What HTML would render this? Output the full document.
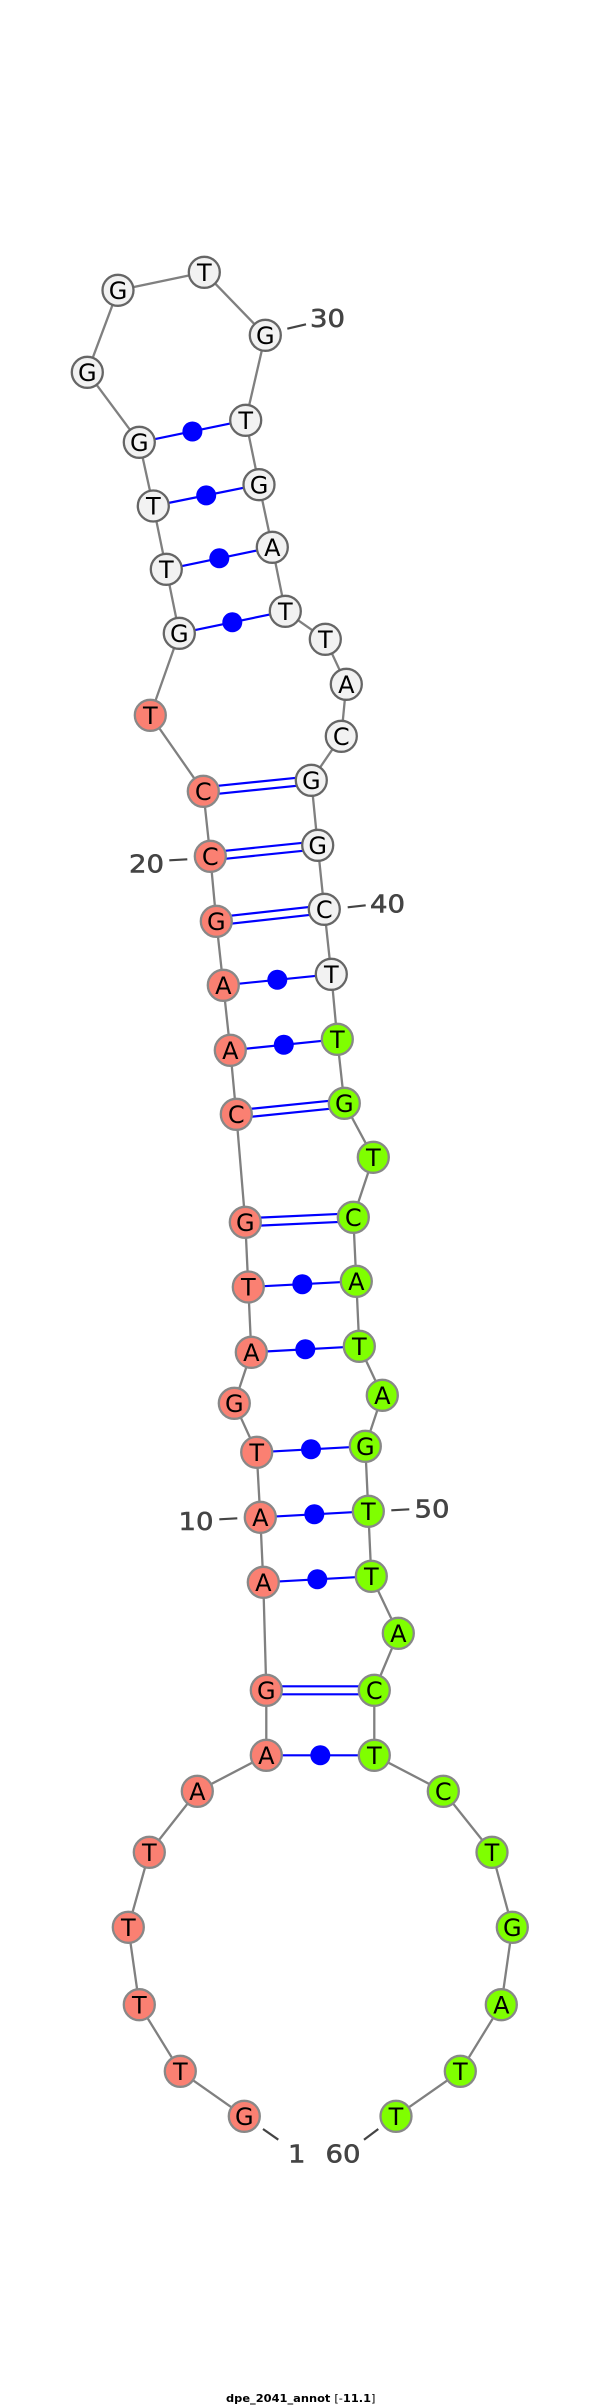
<!DOCTYPE html>
<html>
<head>
<meta charset="utf-8">
<style>
html,body{margin:0;padding:0;background:#fff}
svg{display:block}
.b{stroke:#808080;stroke-width:2.3;fill:none}
.p line{stroke:#0000ff;stroke-width:2.2}
.p circle{fill:#0000ff}
.w circle{fill:#f2f2f2;stroke:#666;stroke-width:2.3}
.s circle{fill:#fa8072;stroke:#888;stroke-width:2.3}
.g circle{fill:#7fff00;stroke:#888;stroke-width:2.3}
.n text{font-family:"DejaVu Sans",sans-serif;font-size:24px;fill:#000;text-anchor:middle}
.l text{font-family:"DejaVu Sans",sans-serif;font-size:25px;fill:#444;stroke:#444;stroke-width:.6}
.l line{stroke:#444;stroke-width:2.2}
</style>
</head>
<body>
<svg width="600" height="2406" viewBox="0 0 600 2406" xmlns="http://www.w3.org/2000/svg">
<rect width="600" height="2406" fill="#fff"/>
<polyline class="b" points="244.3,2116.3 180.3,2071.3 139.3,2004.7 128.3,1927.3 149.3,1852.3 197.3,1791.3 266.3,1755.3 266.3,1690.3 263.3,1582.3 260.3,1517.3 256.7,1452.3 234.3,1403.3 251.3,1352.3 248.3,1287 245.3,1222.3 236.3,1114.3 230.3,1050.3 223.3,985.3 216.3,921.3 210.3,856.3 203.3,791.3 150.3,715.3 179.3,633.3 166.3,569.3 153.3,506 139.3,442.3 87.3,372.3 118,290.3 204.3,272.3 265.3,335.3 245.7,420.3 259,484.7 272.3,547.3 285.3,611.3 325.3,639.3 346.3,684.3 341.3,736.3 311.3,780.3 317.7,845.3 324.3,909.3 331.3,974.3 337.3,1039.3 344.3,1103.3 373.3,1157.3 353.3,1217.3 356.3,1281.3 359.3,1346.3 382.3,1395.3 365.3,1446.3 368.3,1511.3 371.3,1576.3 398.3,1633.3 374.3,1690.3 374.3,1755.3 443.3,1791.3 492,1852.3 512.3,1927.3 501.3,2004.7 460.3,2071.3 396,2116.3"/>
<g class="p">
<line x1="139.3" y1="442.3" x2="245.7" y2="420.3"/><circle cx="192.4" cy="431.5" r="10"/>
<line x1="153.3" y1="506" x2="259" y2="484.7"/><circle cx="206.2" cy="495.4" r="10"/>
<line x1="166.3" y1="569.3" x2="272.3" y2="547.3"/><circle cx="219.3" cy="558.3" r="10"/>
<line x1="179.3" y1="633.3" x2="285.3" y2="611.3"/><circle cx="232.3" cy="622.3" r="10"/>
<line x1="203.3" y1="787.3" x2="311.3" y2="776.3"/><line x1="203.3" y1="795.3" x2="311.3" y2="784.3"/>
<line x1="210.3" y1="852.3" x2="317.7" y2="841.3"/><line x1="210.3" y1="860.3" x2="317.7" y2="849.3"/>
<line x1="216.3" y1="917.3" x2="324.3" y2="905.3"/><line x1="216.3" y1="925.3" x2="324.3" y2="913.3"/>
<line x1="223.3" y1="985.3" x2="331.3" y2="974.3"/><circle cx="277.3" cy="979.8" r="10"/>
<line x1="230.3" y1="1050.3" x2="337.3" y2="1039.3"/><circle cx="283.8" cy="1044.8" r="10"/>
<line x1="236.3" y1="1110.3" x2="344.3" y2="1099.3"/><line x1="236.3" y1="1118.3" x2="344.3" y2="1107.3"/>
<line x1="245.3" y1="1218.3" x2="353.3" y2="1213.3"/><line x1="245.3" y1="1226.3" x2="353.3" y2="1221.3"/>
<line x1="248.3" y1="1287" x2="356.3" y2="1281.3"/><circle cx="302.3" cy="1284.2" r="10"/>
<line x1="251.3" y1="1352.3" x2="359.3" y2="1346.3"/><circle cx="305.3" cy="1349.3" r="10"/>
<line x1="256.7" y1="1452.3" x2="365.3" y2="1446.3"/><circle cx="311" cy="1449.3" r="10"/>
<line x1="260.3" y1="1517.3" x2="368.3" y2="1511.3"/><circle cx="314.3" cy="1514.3" r="10"/>
<line x1="263.3" y1="1582.3" x2="371.3" y2="1576.3"/><circle cx="317.3" cy="1579.3" r="10"/>
<line x1="266.3" y1="1686.3" x2="374.3" y2="1686.3"/><line x1="266.3" y1="1694.3" x2="374.3" y2="1694.3"/>
<line x1="266.3" y1="1755.3" x2="374.3" y2="1755.3"/><circle cx="320.3" cy="1755.3" r="10"/>
</g>
<g class="s">
<circle cx="244.3" cy="2116.3" r="15.5"/><circle cx="180.3" cy="2071.3" r="15.5"/><circle cx="139.3" cy="2004.7" r="15.5"/><circle cx="128.3" cy="1927.3" r="15.5"/><circle cx="149.3" cy="1852.3" r="15.5"/><circle cx="197.3" cy="1791.3" r="15.5"/><circle cx="266.3" cy="1755.3" r="15.5"/><circle cx="266.3" cy="1690.3" r="15.5"/><circle cx="263.3" cy="1582.3" r="15.5"/><circle cx="260.3" cy="1517.3" r="15.5"/><circle cx="256.7" cy="1452.3" r="15.5"/><circle cx="234.3" cy="1403.3" r="15.5"/><circle cx="251.3" cy="1352.3" r="15.5"/><circle cx="248.3" cy="1287" r="15.5"/><circle cx="245.3" cy="1222.3" r="15.5"/><circle cx="236.3" cy="1114.3" r="15.5"/><circle cx="230.3" cy="1050.3" r="15.5"/><circle cx="223.3" cy="985.3" r="15.5"/><circle cx="216.3" cy="921.3" r="15.5"/><circle cx="210.3" cy="856.3" r="15.5"/><circle cx="203.3" cy="791.3" r="15.5"/><circle cx="150.3" cy="715.3" r="15.5"/>
</g>
<g class="w">
<circle cx="179.3" cy="633.3" r="15.5"/><circle cx="166.3" cy="569.3" r="15.5"/><circle cx="153.3" cy="506" r="15.5"/><circle cx="139.3" cy="442.3" r="15.5"/><circle cx="87.3" cy="372.3" r="15.5"/><circle cx="118" cy="290.3" r="15.5"/><circle cx="204.3" cy="272.3" r="15.5"/><circle cx="265.3" cy="335.3" r="15.5"/><circle cx="245.7" cy="420.3" r="15.5"/><circle cx="259" cy="484.7" r="15.5"/><circle cx="272.3" cy="547.3" r="15.5"/><circle cx="285.3" cy="611.3" r="15.5"/><circle cx="325.3" cy="639.3" r="15.5"/><circle cx="346.3" cy="684.3" r="15.5"/><circle cx="341.3" cy="736.3" r="15.5"/><circle cx="311.3" cy="780.3" r="15.5"/><circle cx="317.7" cy="845.3" r="15.5"/><circle cx="324.3" cy="909.3" r="15.5"/><circle cx="331.3" cy="974.3" r="15.5"/>
</g>
<g class="g">
<circle cx="337.3" cy="1039.3" r="15.5"/><circle cx="344.3" cy="1103.3" r="15.5"/><circle cx="373.3" cy="1157.3" r="15.5"/><circle cx="353.3" cy="1217.3" r="15.5"/><circle cx="356.3" cy="1281.3" r="15.5"/><circle cx="359.3" cy="1346.3" r="15.5"/><circle cx="382.3" cy="1395.3" r="15.5"/><circle cx="365.3" cy="1446.3" r="15.5"/><circle cx="368.3" cy="1511.3" r="15.5"/><circle cx="371.3" cy="1576.3" r="15.5"/><circle cx="398.3" cy="1633.3" r="15.5"/><circle cx="374.3" cy="1690.3" r="15.5"/><circle cx="374.3" cy="1755.3" r="15.5"/><circle cx="443.3" cy="1791.3" r="15.5"/><circle cx="492" cy="1852.3" r="15.5"/><circle cx="512.3" cy="1927.3" r="15.5"/><circle cx="501.3" cy="2004.7" r="15.5"/><circle cx="460.3" cy="2071.3" r="15.5"/><circle cx="396" cy="2116.3" r="15.5"/>
</g>
<g class="n">
<text x="244.3" y="2125">G</text><text x="180.3" y="2080">T</text><text x="139.3" y="2013.4">T</text><text x="128.3" y="1936">T</text><text x="149.3" y="1861">T</text><text x="197.3" y="1800">A</text><text x="266.3" y="1764">A</text><text x="266.3" y="1699">G</text><text x="263.3" y="1591">A</text><text x="260.3" y="1526">A</text><text x="256.7" y="1461">T</text><text x="234.3" y="1412">G</text><text x="251.3" y="1361">A</text><text x="248.3" y="1295.7">T</text><text x="245.3" y="1231">G</text><text x="236.3" y="1123">C</text><text x="230.3" y="1059">A</text><text x="223.3" y="994">A</text><text x="216.3" y="930">G</text><text x="210.3" y="865">C</text><text x="203.3" y="800">C</text><text x="150.3" y="724">T</text>
<text x="179.3" y="642">G</text><text x="166.3" y="578">T</text><text x="153.3" y="514.7">T</text><text x="139.3" y="451">G</text><text x="87.3" y="381">G</text><text x="118" y="299">G</text><text x="204.3" y="281">T</text><text x="265.3" y="344">G</text><text x="245.7" y="429">T</text><text x="259" y="493.4">G</text><text x="272.3" y="556">A</text><text x="285.3" y="620">T</text><text x="325.3" y="648">T</text><text x="346.3" y="693">A</text><text x="341.3" y="745">C</text><text x="311.3" y="789">G</text><text x="317.7" y="854">G</text><text x="324.3" y="918">C</text><text x="331.3" y="983">T</text>
<text x="337.3" y="1048">T</text><text x="344.3" y="1112">G</text><text x="373.3" y="1166">T</text><text x="353.3" y="1226">C</text><text x="356.3" y="1290">A</text><text x="359.3" y="1355">T</text><text x="382.3" y="1404">A</text><text x="365.3" y="1455">G</text><text x="368.3" y="1520">T</text><text x="371.3" y="1585">T</text><text x="398.3" y="1642">A</text><text x="374.3" y="1699">C</text><text x="374.3" y="1764">T</text><text x="443.3" y="1800">C</text><text x="492" y="1861">T</text><text x="512.3" y="1936">G</text><text x="501.3" y="2013.4">A</text><text x="460.3" y="2080">T</text><text x="396" y="2125">T</text>
</g>
<g class="l">
<line x1="287.3" y1="328.7" x2="306" y2="324.3"/><text x="310" y="327" textLength="35" lengthAdjust="spacingAndGlyphs">30</text>
<line x1="169.3" y1="860.3" x2="187.3" y2="859.3"/><text x="129" y="872.7" textLength="35" lengthAdjust="spacingAndGlyphs">20</text>
<line x1="347.7" y1="907.3" x2="365.7" y2="905.3"/><text x="370" y="912.7" textLength="35" lengthAdjust="spacingAndGlyphs">40</text>
<line x1="219.3" y1="1519.3" x2="237.3" y2="1518.3"/><text x="178.5" y="1530" textLength="35" lengthAdjust="spacingAndGlyphs">10</text>
<line x1="391.3" y1="1510.3" x2="409.3" y2="1509.3"/><text x="414.5" y="1517.3" textLength="35" lengthAdjust="spacingAndGlyphs">50</text>
<line x1="263" y1="2129" x2="278.3" y2="2139.7"/><text x="288" y="2162.3" textLength="17.5" lengthAdjust="spacingAndGlyphs">1</text>
<line x1="378.3" y1="2129" x2="364" y2="2139.7"/><text x="325.5" y="2162.3" textLength="35" lengthAdjust="spacingAndGlyphs">60</text>
</g>
<text x="226" y="2402" font-family="'DejaVu Sans',sans-serif" font-weight="bold" font-size="11px" fill="#000" textLength="149.5" lengthAdjust="spacingAndGlyphs">dpe_2041_annot <tspan font-weight="normal">[-</tspan>11.1<tspan font-weight="normal">]</tspan></text>
</svg>
</body>
</html>
